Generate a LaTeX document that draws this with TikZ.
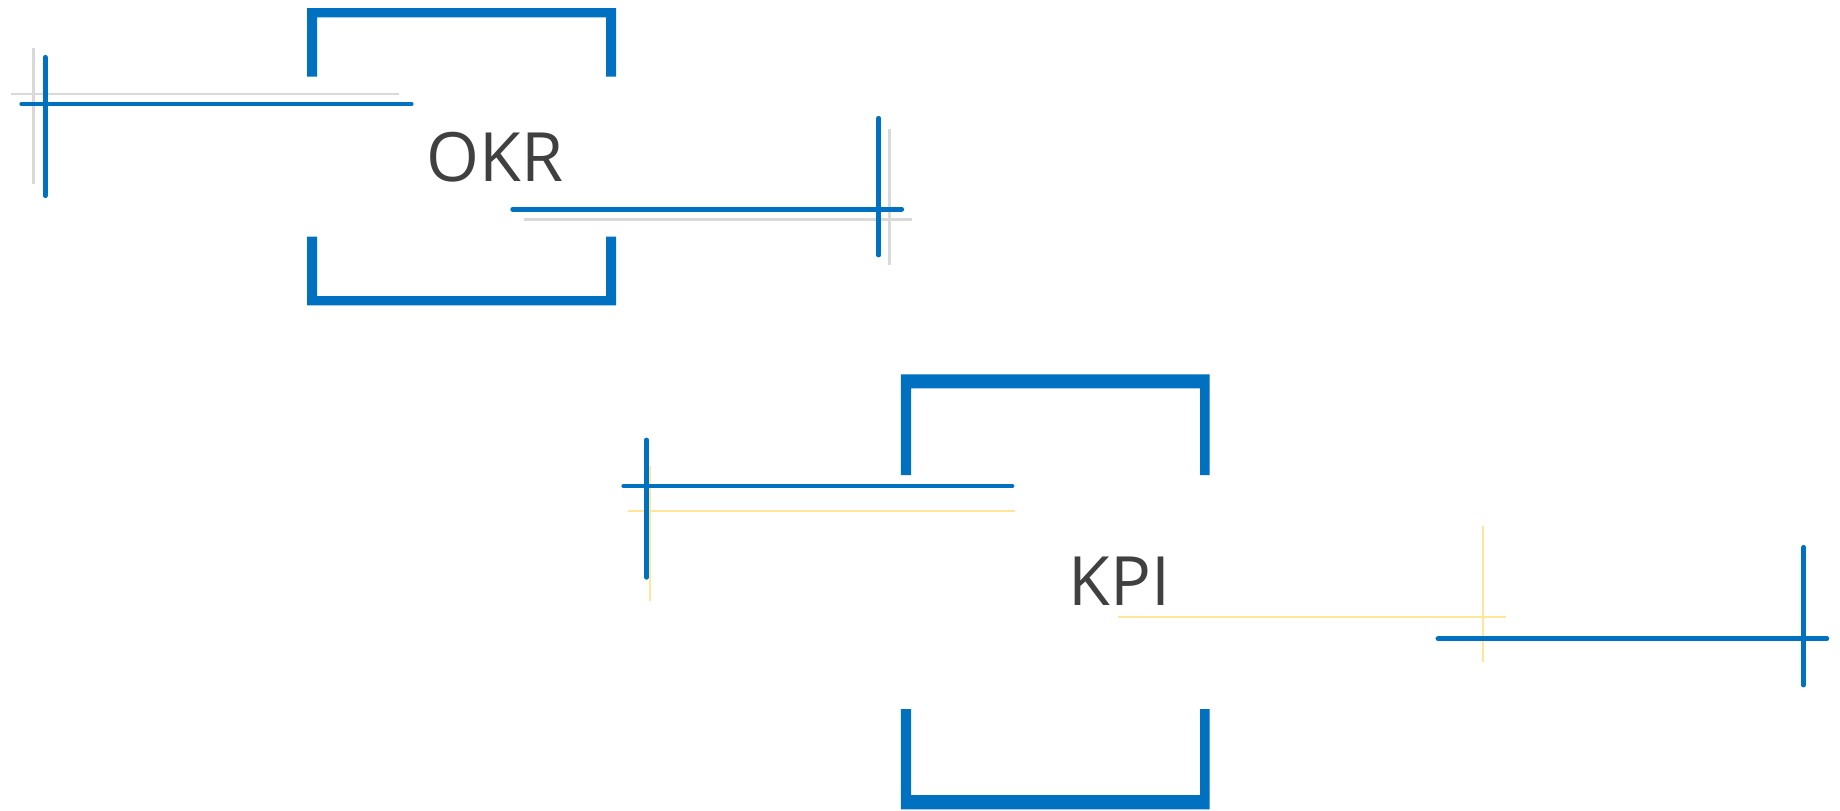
\documentclass[tikz,border=0pt]{standalone}
\usepackage{fontspec}
\setmainfont{Open Sans}
\usepackage{tikz}

\begin{document}
\begin{tikzpicture}[x=0.5pt,y=0.5pt,yscale=-1,xscale=1]
\useasboundingbox (0,0) rectangle (1840,810); %diagram is 1840 wide and 810 high

%Straight Lines [id:okr_shadow_left] 
\draw  [color={rgb, 255:red, 217; green, 217; blue, 217 }  ,line width=1.2pt ]  (11,94) -- (399.4,94) ;
\draw  [color={rgb, 255:red, 217; green, 217; blue, 217 }  ,line width=1.2pt ]  (33.6,47.7) -- (33.6,184.3) ;
%Straight Lines [id:okr_cross_left] 
\draw  [color={rgb, 255:red, 0; green, 112; blue, 192 }  ,line width=2.4pt ,line cap=round ]  (21.7,104) -- (411.2,104) ;
\draw  [color={rgb, 255:red, 0; green, 112; blue, 192 }  ,line width=2.4pt ,line cap=round ]  (45.1,57.3) -- (45.1,195.7) ;

%Straight Lines [id:okr_shadow_right] 
\draw  [color={rgb, 255:red, 217; green, 217; blue, 217 }  ,line width=1.2pt ]  (524.3,219.3) -- (911.7,219.3) ;
\draw  [color={rgb, 255:red, 217; green, 217; blue, 217 }  ,line width=1.2pt ]  (889.3,129.3) -- (889.3,265) ;
%Straight Lines [id:okr_cross_right] 
\draw  [color={rgb, 255:red, 0; green, 112; blue, 192 }  ,line width=2.4pt ,line cap=round ]  (512.7,209.3) -- (901.7,209.3) ;
\draw  [color={rgb, 255:red, 0; green, 112; blue, 192 }  ,line width=2.4pt ,line cap=round ]  (878.7,118.3) -- (878.7,255) ;

%Shape: Bracket [id:okr_top] 
\fill  [color={rgb, 255:red, 0; green, 112; blue, 192 }  ]  (307.2,76.7) -- (307.2,8) -- (616,8) -- (616,76.7) -- (606.2,76.7) -- (606.2,17.3) -- (317.1,17.3) -- (317.1,76.7) -- cycle ;
%Shape: Bracket [id:okr_bottom] 
\fill  [color={rgb, 255:red, 0; green, 112; blue, 192 }  ]  (307.2,236.7) -- (307.2,305.3) -- (616,305.3) -- (616,236.7) -- (606.2,236.7) -- (606.2,296) -- (317.1,296) -- (317.1,236.7) -- cycle ;

% Text Node
\node (okr) [color={rgb, 255:red, 64; green, 64; blue, 64 }  ,anchor=base ,font=\fontsize{34}{40}\selectfont ]  at (495.3,181) {OKR};

%Straight Lines [id:kpi_shadow_left] 
\draw  [color={rgb, 255:red, 255; green, 230; blue, 153 }  ,line width=1.2pt ]  (627.7,511) -- (1015,511) ;
\draw  [color={rgb, 255:red, 255; green, 230; blue, 153 }  ,line width=1.2pt ]  (649.8,466) -- (649.8,600.7) ;
%Straight Lines [id:kpi_cross_left] 
\draw  [color={rgb, 255:red, 0; green, 112; blue, 192 }  ,line width=2.4pt ,line cap=round ]  (623.7,486) -- (1012,486) ;
\draw  [color={rgb, 255:red, 0; green, 112; blue, 192 }  ,line width=2.4pt ,line cap=round ]  (646.5,440) -- (646.5,577.3) ;

%Straight Lines [id:kpi_shadow_right] 
\draw  [color={rgb, 255:red, 255; green, 230; blue, 153 }  ,line width=1.2pt ]  (1118,616.7) -- (1505.9,616.7) ;
\draw  [color={rgb, 255:red, 255; green, 230; blue, 153 }  ,line width=1.2pt ]  (1483.2,526) -- (1483.2,662.3) ;
%Straight Lines [id:kpi_cross_right] 
\draw  [color={rgb, 255:red, 0; green, 112; blue, 192 }  ,line width=2.4pt ,line cap=round ]  (1438,638.7) -- (1826.8,638.7) ;
\draw  [color={rgb, 255:red, 0; green, 112; blue, 192 }  ,line width=2.4pt ,line cap=round ]  (1803.6,547.3) -- (1803.6,685) ;

%Shape: Bracket [id:kpi_top] 
\fill  [color={rgb, 255:red, 0; green, 112; blue, 192 }  ]  (900.8,475) -- (900.8,374.3) -- (1209.7,374.3) -- (1209.7,475) -- (1200,475) -- (1200,388.3) -- (911,388.3) -- (911,475) -- cycle ;
%Shape: Bracket [id:kpi_bottom] 
\fill  [color={rgb, 255:red, 0; green, 112; blue, 192 }  ]  (900.8,709) -- (900.8,809.3) -- (1209.7,809.3) -- (1209.7,709) -- (1200,709) -- (1200,795) -- (911,795) -- (911,709) -- cycle ;

% Text Node
\node (kpi) [color={rgb, 255:red, 64; green, 64; blue, 64 }  ,anchor=base ,font=\fontsize{34}{40}\selectfont ]  at (1119.7,605) {KPI};

\end{tikzpicture}
\end{document}
